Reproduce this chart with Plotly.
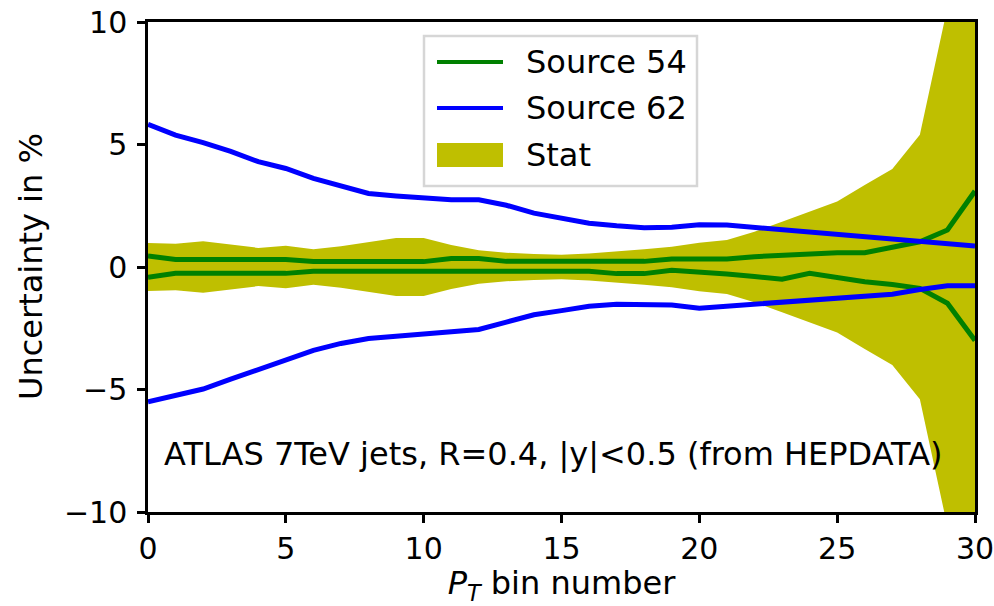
import plotly.graph_objects as go

# ---------------- data ----------------
bins = list(range(31))

src54_up = [0.45, 0.31, 0.31, 0.31, 0.31, 0.31, 0.22, 0.22, 0.22, 0.22, 0.22,
            0.35, 0.35, 0.23, 0.23, 0.23, 0.23, 0.23, 0.23, 0.33, 0.33,
            0.33, 0.42, 0.49, 0.56, 0.58, 0.58, 0.83, 1.03, 1.51, 3.1]
src54_lo = [-0.42, -0.26, -0.26, -0.26, -0.26, -0.26, -0.17, -0.17, -0.17, -0.17, -0.17,
            -0.17, -0.17, -0.17, -0.17, -0.17, -0.17, -0.27, -0.27, -0.13, -0.19,
            -0.29, -0.39, -0.5, -0.26, -0.44, -0.6, -0.71, -0.87, -1.48, -3.0]

src62_up = [5.82, 5.38, 5.08, 4.72, 4.3, 4.02, 3.62, 3.3, 3.0, 2.9, 2.8,
            2.75, 2.74, 2.52, 2.2, 1.97, 1.79, 1.68, 1.6, 1.62, 1.72,
            1.71, 1.62, 1.52, 1.43, 1.33, 1.24, 1.15, 1.05, 0.96, 0.86]
src62_lo = [-5.5, -5.25, -4.98, -4.58, -4.2, -3.82, -3.4, -3.12, -2.92, -2.83, -2.75,
            -2.65, -2.55, -2.25, -1.95, -1.78, -1.6, -1.52, -1.52, -1.55, -1.68,
            -1.6, -1.48, -1.4, -1.33, -1.26, -1.19, -1.11, -0.92, -0.77, -0.77]

stat = [0.98, 0.95, 1.05, 0.9, 0.78, 0.87, 0.72, 0.85, 1.0, 1.18, 1.18,
        0.9, 0.68, 0.58, 0.53, 0.5, 0.55, 0.62, 0.72, 0.83, 0.99,
        1.1, 1.44, 1.85, 2.26, 2.67, 3.35, 4.0, 5.4, 10.6, 20.0]

x_ticks = [0, 5, 10, 15, 20, 25, 30]
y_ticks = [-10, -5, 0, 5, 10]

series_names = ["Source 54", "Source 62", "Stat"]
x_title = "<i>P</i><sub><i>T</i></sub> bin number"
y_title = "Uncertainty in %"
annotation_text = "ATLAS 7TeV jets, R=0.4, |y|<0.5 (from HEPDATA)"

# ---------------- styles ----------------
GREEN = "#008000"
BLUE = "#0000ff"
OLIVE = "#bfbf00"
FONT = "DejaVu Sans"
FS = 30
FS_TXT = 32
LW = 5

fig = go.Figure()

# Stat band
fig.add_trace(go.Scatter(x=bins, y=[-v for v in stat], mode="lines",
                         line=dict(width=0, color=OLIVE), showlegend=False,
                         hoverinfo="skip"))
fig.add_trace(go.Scatter(x=bins, y=stat, mode="lines", fill="tonexty",
                         fillcolor=OLIVE, line=dict(width=0, color=OLIVE),
                         name=series_names[2], showlegend=False))

# Source 54
fig.add_trace(go.Scatter(x=bins, y=src54_up, mode="lines",
                         line=dict(color=GREEN, width=LW), name=series_names[0],
                         showlegend=False))
fig.add_trace(go.Scatter(x=bins, y=src54_lo, mode="lines",
                         line=dict(color=GREEN, width=LW), name=series_names[0],
                         showlegend=False))
# Source 62
fig.add_trace(go.Scatter(x=bins, y=src62_up, mode="lines",
                         line=dict(color=BLUE, width=LW), name=series_names[1],
                         showlegend=False))
fig.add_trace(go.Scatter(x=bins, y=src62_lo, mode="lines",
                         line=dict(color=BLUE, width=LW), name=series_names[1],
                         showlegend=False))

# ---------------- layout ----------------
W, H = 994, 606
L, R, T, B = 148, 19, 22, 94
PW, PH = W - L - R, H - T - B


def px2paper(px, py):
    return (px - L) / PW, (H - B - py) / PH


axis_common = dict(showline=True, linecolor="black", linewidth=2.5, mirror=True,
                   ticks="outside", ticklen=8, tickwidth=2.5, tickcolor="black",
                   showgrid=False, zeroline=False, automargin=False,
                   ticklabeloverflow="allow",
                   tickfont=dict(family=FONT, size=FS, color="black"))

fig.update_layout(
    width=W, height=H,
    margin=dict(l=L, r=R, t=T, b=B),
    paper_bgcolor="white", plot_bgcolor="white",
    font=dict(family=FONT, size=FS, color="black"),
    showlegend=False,
    xaxis=dict(range=[0, 30], tickvals=x_ticks,
               title=dict(text=x_title, font=dict(family=FONT, size=FS_TXT)),
               **axis_common),
    yaxis=dict(range=[-10, 10], tickvals=y_ticks, ticklabelstandoff=4,
               **axis_common),
)

# y-axis title
tx, ty = px2paper(31, 267)
fig.add_annotation(x=tx, y=ty, xref="paper", yref="paper", text=y_title,
                   showarrow=False, xanchor="center", yanchor="middle",
                   textangle=-90,
                   font=dict(family=FONT, size=FS_TXT, color="black"))

# text annotation
fig.add_annotation(x=0.5, y=-7.65, xref="x", yref="y", text=annotation_text,
                   showarrow=False, xanchor="left", yanchor="middle",
                   font=dict(family=FONT, size=FS_TXT, color="black"))

# ---------------- legend (drawn) ----------------
bx0, by0 = px2paper(424, 186)
bx1, by1 = px2paper(697, 36)
fig.add_shape(type="rect", xref="paper", yref="paper",
              x0=bx0, y0=by0, x1=bx1, y1=by1,
              line=dict(color="#d6d6d6", width=2.5), fillcolor="white",
              layer="above")

legend_rows = [(series_names[0], GREEN, 62, "line"),
               (series_names[1], BLUE, 108, "line"),
               (series_names[2], OLIVE, 155, "patch")]
for name, color, py, kind in legend_rows:
    sx0, sy = px2paper(437, py)
    sx1, _ = px2paper(503, py)
    if kind == "line":
        fig.add_shape(type="line", xref="paper", yref="paper",
                      x0=sx0, x1=sx1, y0=sy, y1=sy,
                      line=dict(color=color, width=LW - 1), layer="above")
    else:
        _, ry0 = px2paper(0, py + 12)
        _, ry1 = px2paper(0, py - 12)
        fig.add_shape(type="rect", xref="paper", yref="paper",
                      x0=sx0, x1=sx1, y0=ry0, y1=ry1,
                      line=dict(width=0), fillcolor=color, layer="above")
    tx, ty = px2paper(524, py)
    fig.add_annotation(x=tx, y=ty, xref="paper", yref="paper", text=name,
                       showarrow=False, xanchor="left", yanchor="middle",
                       font=dict(family=FONT, size=FS_TXT, color="black"))

fig.write_html("out.html")
